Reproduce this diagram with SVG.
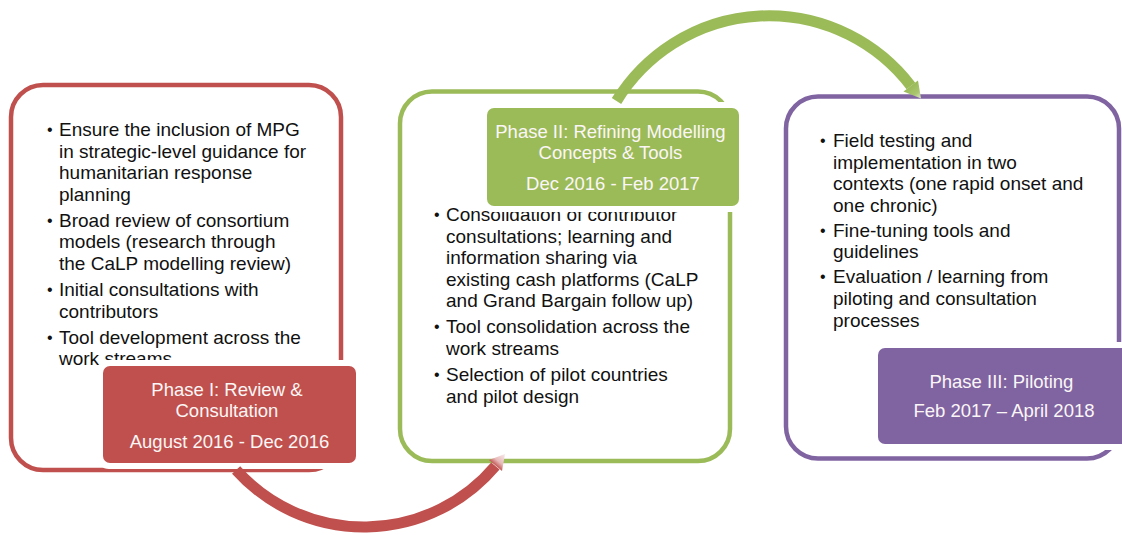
<svg xmlns="http://www.w3.org/2000/svg" width="1122" height="535" viewBox="0 0 1122 535">
  <style>
    .box{fill:#ffffff;stroke-width:4.5}
    .halo{fill:#ffffff}
    .t{font-family:'Liberation Sans',Arial,sans-serif;font-size:19px;fill:#111111}
    .bu{font-family:'Liberation Sans',Arial,sans-serif;font-size:16px;fill:#111111}
    .lt{font-family:'Liberation Sans',Arial,sans-serif;font-size:18.5px;fill:#fbf6f6;text-anchor:middle}
    .arc{fill:none;stroke-width:11}
  </style>
  <defs>
    <linearGradient id="gRed" gradientUnits="userSpaceOnUse" x1="495.4" y1="466" x2="505.7" y2="453.8">
      <stop offset="0" stop-color="#c0504d"/>
      <stop offset="0.35" stop-color="#e7b9b8"/>
      <stop offset="1" stop-color="#f8eeee"/>
    </linearGradient>
    <linearGradient id="gGreen" gradientUnits="userSpaceOnUse" x1="910.9" y1="86" x2="921.9" y2="100.3">
      <stop offset="0" stop-color="#9bbb59"/>
      <stop offset="0.5" stop-color="#a9c56f"/>
      <stop offset="1" stop-color="#eef3e3"/>
    </linearGradient>
  </defs>

  <g id="phase1">
    <rect class="box" x="11" y="85" width="330" height="385" rx="32" stroke="#c0504d"/>
    <text class="bu"><tspan x="47" y="135">•</tspan><tspan x="47" y="225.8">•</tspan><tspan x="47" y="295">•</tspan><tspan x="47" y="342.6">•</tspan></text>
    <text class="t">
      <tspan x="59" y="136">Ensure the inclusion of MPG</tspan>
      <tspan x="59" y="157.6">in strategic-level guidance for</tspan>
      <tspan x="59" y="179.2">humanitarian response</tspan>
      <tspan x="59" y="200.8">planning</tspan>
      <tspan x="59" y="226.8">Broad review of consortium</tspan>
      <tspan x="59" y="248.4">models (research through</tspan>
      <tspan x="59" y="270">the CaLP modelling review)</tspan>
      <tspan x="59" y="296">Initial consultations with</tspan>
      <tspan x="59" y="317.6">contributors</tspan>
      <tspan x="59" y="343.6">Tool development across the</tspan>
      <tspan x="59" y="365.2">work streams</tspan>
    </text>
    <rect class="halo" x="97" y="360" width="265" height="109" rx="12"/>
    <rect x="103" y="366" width="253" height="97" rx="7" fill="#c0504d"/>
    <text class="lt">
      <tspan x="229.5" y="396">Phase I: Review &amp;</tspan>
      <tspan x="229.5" y="417">Consultation</tspan>
      <tspan x="229.5" y="448">August 2016 - Dec 2016</tspan>
    </text>
  </g>

  <g id="phase2">
    <rect class="box" x="400" y="91.5" width="330" height="369.5" rx="32" stroke="#9bbb59"/>
    <text class="bu"><tspan x="434" y="220">•</tspan><tspan x="434" y="332.4">•</tspan><tspan x="434" y="380">•</tspan></text>
    <text class="t">
      <tspan x="446" y="221">Consolidation of contributor</tspan>
      <tspan x="446" y="242.6">consultations; learning and</tspan>
      <tspan x="446" y="264.2">information sharing via</tspan>
      <tspan x="446" y="285.8">existing cash platforms (CaLP</tspan>
      <tspan x="446" y="307.4">and Grand Bargain follow up)</tspan>
      <tspan x="446" y="333.4">Tool consolidation across the</tspan>
      <tspan x="446" y="355">work streams</tspan>
      <tspan x="446" y="381">Selection of pilot countries</tspan>
      <tspan x="446" y="402.6">and pilot design</tspan>
    </text>
    <rect class="halo" x="481" y="102" width="264" height="110" rx="12"/>
    <rect x="487" y="108" width="252" height="98" rx="7" fill="#9bbb59"/>
    <text class="lt">
      <tspan x="613" y="138">Phase II: Refining Modelling</tspan>
      <tspan x="613" y="159">Concepts &amp; Tools</tspan>
      <tspan x="613" y="190">Dec 2016 - Feb 2017</tspan>
    </text>
  </g>

  <g id="phase3">
    <rect class="box" x="786" y="96.5" width="333" height="362" rx="32" stroke="#8064a2"/>
    <text class="bu"><tspan x="820" y="146">•</tspan><tspan x="820" y="235.8">•</tspan><tspan x="820" y="282.4">•</tspan></text>
    <text class="t">
      <tspan x="833" y="147">Field testing and</tspan>
      <tspan x="833" y="168.6">implementation in two</tspan>
      <tspan x="833" y="190.2">contexts (one rapid onset and</tspan>
      <tspan x="833" y="211.8">one chronic)</tspan>
      <tspan x="833" y="236.8">Fine-tuning tools and</tspan>
      <tspan x="833" y="258.4">guidelines</tspan>
      <tspan x="833" y="283.4">Evaluation / learning from</tspan>
      <tspan x="833" y="305">piloting and consultation</tspan>
      <tspan x="833" y="326.6">processes</tspan>
    </text>
    <rect class="halo" x="872" y="342" width="274" height="108" rx="12"/>
    <rect x="878" y="348" width="262" height="96" rx="7" fill="#8064a2"/>
    <text class="lt">
      <tspan x="1004" y="388">Phase III: Piloting</tspan>
      <tspan x="1004" y="417">Feb 2017 – April 2018</tspan>
    </text>
  </g>

  <g id="connectors">
    <path class="arc" stroke="#c0504d" d="M 236.1 470 A 172 172 0 0 0 495.4 466"/>
    <polygon fill="url(#gRed)" points="502,471 489,460 505,454"/>
    <path class="arc" stroke="#9bbb59" d="M 616.5 101 A 178.8 178.8 0 0 1 910.9 86"/>
    <polygon fill="url(#gGreen)" points="918,80.5 903.5,91.5 921,98.5"/>
  </g>
</svg>
